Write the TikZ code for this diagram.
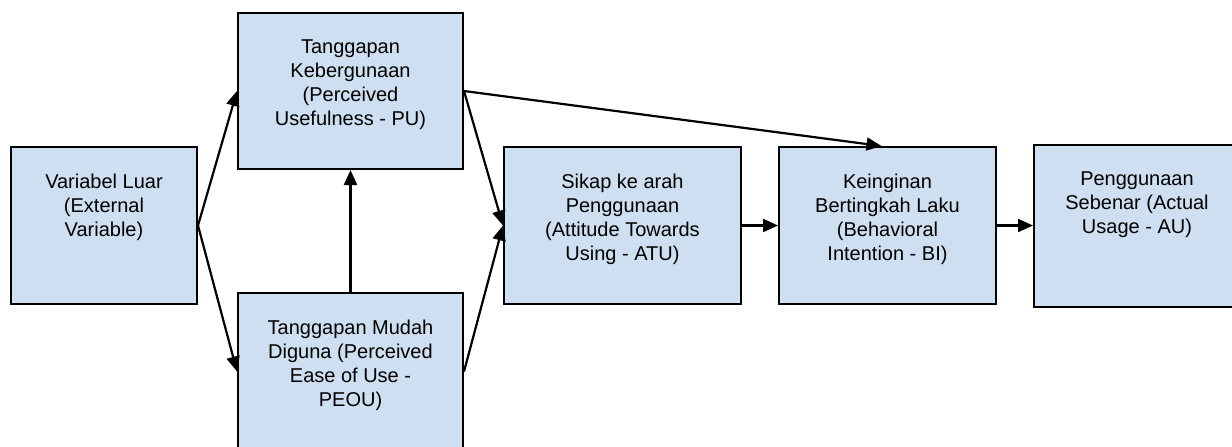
\documentclass[tikz,border=0pt]{standalone}
\usepackage{fontspec}
\setmainfont{Liberation Sans}
\usepackage{tikz}
\usetikzlibrary{arrows.meta, positioning}

\definecolor{boxblue}{RGB}{206,223,241}
\newcommand{\tamtext}[3]{\parbox[c][#2][t]{#1}{\centering\vspace*{27pt}#3}}

\begin{document}
\begin{tikzpicture}[
    x=1pt, y=-1pt,
    box/.style={rectangle, draw=black, fill=boxblue, line width=2pt, inner sep=0pt, anchor=north west, font=\fontsize{20}{24}\selectfont},
    link/.style={-{Triangle[length=15pt, width=13pt]}, line width=2.2pt}
]
\useasboundingbox (0,0) rectangle (1232,447);

% Nodes
\node[box] (luar) at (10,146) {\tamtext{186pt}{157pt}{Variabel Luar\\(External\\Variable)}};

\node[box] (pu) at (237,12) {\tamtext{225pt}{156pt}{Tanggapan\\Kebergunaan\\(Perceived\\Usefulness - PU)}};
\node[box] (peou) at (237,292) {\tamtext{225pt}{157pt}{Tanggapan Mudah\\Diguna (Perceived\\Ease of Use -\\PEOU)}};

\node[box] (sikap) at (503,146) {\tamtext{237pt}{157pt}{Sikap ke arah\\Penggunaan\\(Attitude Towards\\Using - ATU)}};
\node[box, right=36pt of sikap] (ingin) {\tamtext{217pt}{157pt}{Keinginan\\Bertingkah Laku\\(Behavioral\\Intention - BI)}};
\node[box, right=36pt of ingin] (guna) {\tamtext{206pt}{162pt}{Penggunaan\\Sebenar (Actual\\Usage - AU)}};

% Arrows
\draw[link] (luar.east) -- (pu.west);
\draw[link] (luar.east) -- (peou.west);
\draw[link] (peou.north) -- (pu.south);

\draw[link] (pu.east) -- (sikap.west);
\draw[link] (peou.east) -- (sikap.west);
\draw[link] (pu.east) -- ([xshift=-6pt]ingin.north);

\draw[link] (sikap.east) -- (ingin.west);
\draw[link] (ingin.east) -- (guna.west);

\end{tikzpicture}
\end{document}
